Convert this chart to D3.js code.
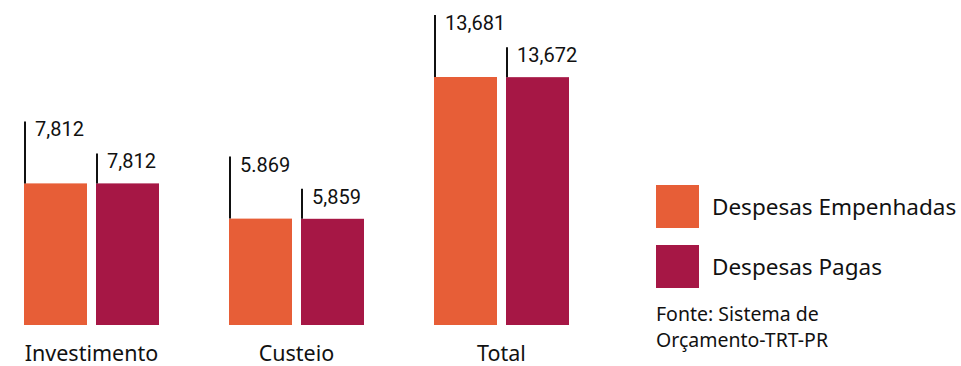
<!DOCTYPE html>
<html>
<head>
<meta charset="utf-8">
<script src="https://cdn.jsdelivr.net/npm/d3@7"></script>
<style>
  body { margin: 0; background: #fff; }
  text { font-family: "Noto Sans", sans-serif; fill: #111; }
</style>
</head>
<body>
<div id="container"></div>
<script>
let w = 961;
let h = 366;

let categories = ["Investimento", "Custeio", "Total"];
let series = ["Despesas Empenhadas", "Despesas Pagas"];
let empenhadas = [7.812, 5.869, 13.681];
let pagas = [7.812, 5.859, 13.672];
let empenhadasLabels = ["7,812", "5.869", "13,681"];
let pagasLabels = ["7,812", "5,859", "13,672"];
let colors = ["#e75e37", "#a61745"];

let viz = d3.select("#container")
  .append("svg")
  .attr("width", w)
  .attr("height", h);

let x0 = d3.scaleBand()
  .domain(categories)
  .range([24, 569])
  .paddingInner(70 / 205)
  .paddingOuter(0);

let x1 = d3.scaleBand()
  .domain(series)
  .range([0, x0.bandwidth()])
  .paddingInner(0.125);

let y = d3.scaleLinear()
  .domain([0, 13.681])
  .range([325, 77]);

let rows = categories.map((c, i) => ({
  cat: c,
  vals: [
    { s: series[0], v: empenhadas[i], label: empenhadasLabels[i], lift: 62 },
    { s: series[1], v: pagas[i], label: pagasLabels[i], lift: 30 }
  ]
}));

let groups = viz.selectAll(".grp")
  .data(rows)
  .enter()
  .append("g")
  .attr("class", "grp")
  .attr("transform", d => "translate(" + x0(d.cat) + ",0)");

groups.selectAll("rect")
  .data(d => d.vals)
  .enter()
  .append("rect")
  .attr("x", d => x1(d.s))
  .attr("y", d => y(d.v))
  .attr("width", x1.bandwidth())
  .attr("height", d => y(0) - y(d.v))
  .attr("fill", (d, i) => colors[i]);

groups.selectAll("line")
  .data(d => d.vals)
  .enter()
  .append("line")
  .attr("x1", d => x1(d.s) + 1)
  .attr("x2", d => x1(d.s) + 1)
  .attr("y1", d => y(d.v))
  .attr("y2", d => y(d.v) - d.lift)
  .attr("stroke", "#111")
  .attr("stroke-width", 2);

groups.selectAll(".val")
  .data(d => d.vals)
  .enter()
  .append("text")
  .attr("class", "val")
  .attr("x", d => x1(d.s) + 11)
  .attr("y", d => y(d.v) - d.lift + 15)
  .style("font-family", "Roboto, sans-serif")
  .style("font-size", "20px")
  .text(d => d.label);

groups.append("text")
  .attr("x", x0.bandwidth() / 2)
  .attr("y", 361)
  .attr("text-anchor", "middle")
  .style("font-size", "21.5px")
  .text(d => d.cat);

// legend
let legend = viz.append("g").attr("transform", "translate(656,185)");

series.forEach((s, i) => {
  legend.append("rect")
    .attr("x", 0)
    .attr("y", i * 60)
    .attr("width", 43)
    .attr("height", 43)
    .attr("fill", colors[i]);
  legend.append("text")
    .attr("x", 56)
    .attr("y", i * 60 + 30)
    .style("font-size", "22.5px")
    .text(s);
});

viz.append("text")
  .attr("x", 656)
  .attr("y", 321)
  .style("font-size", "19.5px")
  .text("Fonte: Sistema de");

viz.append("text")
  .attr("x", 656)
  .attr("y", 347)
  .style("font-size", "19.5px")
  .text("Orçamento-TRT-PR");
</script>
</body>
</html>
